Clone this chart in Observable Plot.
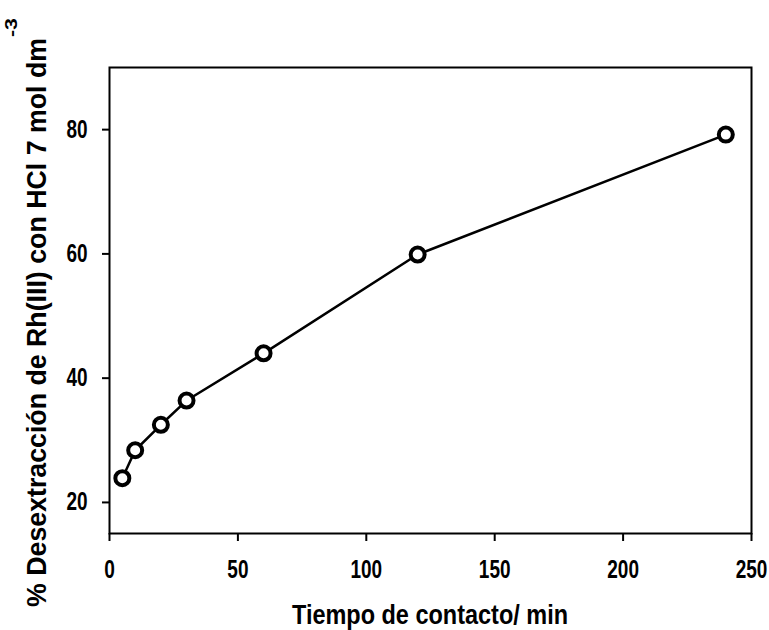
<!DOCTYPE html>
<html><head><meta charset="utf-8">
<script src="https://cdn.jsdelivr.net/npm/d3@7"></script>
<script src="https://cdn.jsdelivr.net/npm/@observablehq/plot@0.6"></script>
<style>body{margin:0;background:#fff}</style>
</head><body><div id="chart"></div>
<script>
const tiempo = [5, 10, 20, 30, 60, 120, 240];
const desextraccion = [23.9, 28.4, 32.5, 36.4, 44.0, 59.9, 79.2];
const xTicks = [0, 50, 100, 150, 200, 250];
const yTicks = [20, 40, 60, 80];
const xLabel = "Tiempo de contacto/ min";
const yLabel = "% Desextracción de Rh(III) con HCl 7 mol dm";
const yLabelSup = "-3";

const data = tiempo.map((t, i) => ({t, v: desextraccion[i]}));
const font = '"Liberation Sans Narrow","Arial Narrow","Liberation Sans",Arial,sans-serif';

const chart = Plot.plot({
  width: 769, height: 630,
  marginLeft: 109, marginRight: 18, marginTop: 67, marginBottom: 97,
  style: {fontFamily: font, fontWeight: "bold", fontSize: "25px", color: "#000", background: "#fff"},
  x: {domain: [0, 250]},
  y: {domain: [15, 90]},
  marks: [
    Plot.axisX({ticks: xTicks, tickSize: 8, tickPadding: 19, strokeWidth: 2, label: null, fontSize: 25}),
    Plot.axisY({ticks: yTicks, tickSize: 7, tickPadding: 15, strokeWidth: 2, label: null, fontSize: 25}),
    Plot.frame({stroke: "#000", strokeWidth: 2}),
    Plot.line(data, {x: "t", y: "v", stroke: "#000", strokeWidth: 2.5}),
    Plot.dot(data, {x: "t", y: "v", r: 7, stroke: "#000", strokeWidth: 4, fill: "#fff"})
  ]
});

document.getElementById("chart").appendChild(chart);
const svg = d3.select(chart);

// condense tick labels to mimic a narrow bold face
svg.selectAll("text").each(function () {
  const L = this.getComputedTextLength();
  this.setAttribute("textLength", (L * 0.76).toFixed(1));
  this.setAttribute("lengthAdjust", "spacingAndGlyphs");
});

svg.append("text")
  .attr("x", 430).attr("y", 624)
  .attr("text-anchor", "middle")
  .attr("fill", "#000")
  .attr("textLength", 276).attr("lengthAdjust", "spacingAndGlyphs")
  .style("font-size", "27px").style("font-weight", "bold")
  .text(xLabel);

svg.append("text")
  .attr("transform", "translate(46,607) rotate(-90)")
  .attr("text-anchor", "start")
  .attr("fill", "#000")
  .attr("textLength", 569).attr("lengthAdjust", "spacingAndGlyphs")
  .style("font-size", "28px").style("font-weight", "bold")
  .text(yLabel);

svg.append("text")
  .attr("transform", "translate(17,37) rotate(-90)")
  .attr("text-anchor", "start")
  .attr("fill", "#000")
  .attr("textLength", 19).attr("lengthAdjust", "spacingAndGlyphs")
  .style("font-size", "16px").style("font-weight", "bold")
  .text(yLabelSup);
</script>
</body></html>
